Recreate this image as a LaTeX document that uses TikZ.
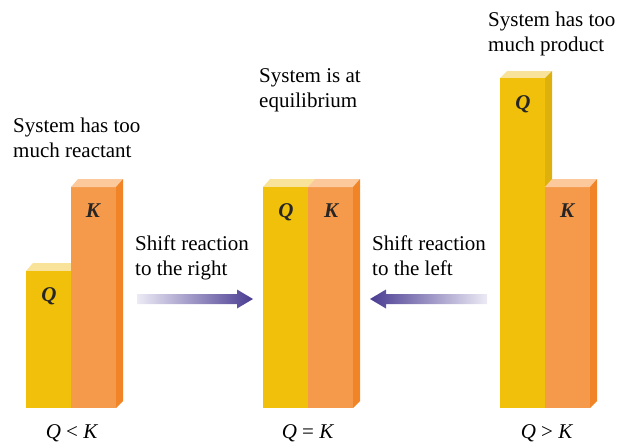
\documentclass[tikz,border=0pt]{standalone}
\usepackage{fontspec}
\setmainfont{Liberation Serif}
\definecolor{yfront}{HTML}{F0C00A}
\definecolor{ytop}{HTML}{F9E29A}
\definecolor{yside}{HTML}{DDB00E}
\definecolor{ofront}{HTML}{F5994B}
\definecolor{otop}{HTML}{FBC99B}
\definecolor{oside}{HTML}{F08426}
\definecolor{arlight}{HTML}{ECEAF5}
\definecolor{ardark}{HTML}{4A3C92}
\begin{document}
\begin{tikzpicture}[x=1pt,y=-1pt,
  txt/.style={font=\fontsize{21}{25}\selectfont, inner sep=0pt, align=left, anchor=north west},
  barlbl/.style={font=\fontsize{21}{25}\selectfont\bfseries\itshape, inner sep=0pt, text=black!85},
  cmp/.style={font=\fontsize{21}{25}\selectfont, inner sep=0pt, anchor=base}]
\useasboundingbox (0,0) rectangle (618,445);
% ---------- left group (Q < K)
\fill[ytop] (26,271) -- (71,271) -- (78,263) -- (33,263) -- cycle;
\fill[yfront] (26,271) rectangle (71,408);
\fill[ofront] (71,187) rectangle (116,408);
\fill[otop] (71,187) -- (116,187) -- (123,179) -- (78,179) -- cycle;
\fill[oside] (116,187) -- (123,179) -- (123,401) -- (116,408) -- cycle;
% ---------- middle group (Q = K)
\fill[ytop] (263,187) -- (308,187) -- (315,179) -- (270,179) -- cycle;
\fill[yfront] (263,187) rectangle (308,408);
\fill[ofront] (308,187) rectangle (353,408);
\fill[otop] (308,187) -- (353,187) -- (360,179) -- (315,179) -- cycle;
\fill[oside] (353,187) -- (360,179) -- (360,401) -- (353,408) -- cycle;
% ---------- right group (Q > K)
\fill[ytop] (500,78) -- (545,78) -- (552,71) -- (507,71) -- cycle;
\fill[yfront] (500,78) rectangle (545,408);
\fill[yside] (545,78) -- (552,71) -- (552,190) -- (545,190) -- cycle;
\fill[ofront] (545,187) rectangle (590,408);
\fill[otop] (545,187) -- (590,187) -- (597,179) -- (552,179) -- cycle;
\fill[oside] (590,187) -- (597,179) -- (597,401) -- (590,408) -- cycle;
% ---------- bar labels
\node[barlbl] (q1) at (49,296) {Q};
\node[barlbl] (k1) at (93,211) {K};
\node[barlbl] (q2) at (286,212) {Q};
\node[barlbl] (k2) at (331,211) {K};
\node[barlbl] (q3) at (523,104) {Q};
\node[barlbl] (k3) at (567,211) {K};
% ---------- comparison labels
\node[cmp] (c1) at (72,438) {\textit{Q} < \textit{K}};
\node[cmp] (c2) at (308,438) {\textit{Q} = \textit{K}};
\node[cmp] (c3) at (547,438) {\textit{Q} > \textit{K}};
% ---------- descriptions
\node[txt] (d1) at (13,118) {System has too\\much reactant};
\node[txt] (d2) at (259,68) {System is at\\equilibrium};
\node[txt] (d3) at (488,12) {System has too\\much product};
\node[txt] (s1) at (135,236) {Shift reaction\\to the right};
\node[txt] (s2) at (372,236) {Shift reaction\\to the left};
% ---------- arrows
\coordinate (ra) at (137,299);
\coordinate (rb) at (253,299);
\shade[left color=arlight, right color=ardark]
  ([yshift=-5]ra) -- ([xshift=-16,yshift=-5]rb) -- ([xshift=-16,yshift=-9.5]rb) -- (rb)
  -- ([xshift=-16,yshift=9.5]rb) -- ([xshift=-16,yshift=5]rb) -- ([yshift=5]ra) -- cycle;
\coordinate (la) at (487,299);
\coordinate (lb) at (370,299);
\shade[left color=ardark, right color=arlight]
  ([yshift=-5]la) -- ([xshift=16,yshift=-5]lb) -- ([xshift=16,yshift=-9.5]lb) -- (lb)
  -- ([xshift=16,yshift=9.5]lb) -- ([xshift=16,yshift=5]lb) -- ([yshift=5]la) -- cycle;
\end{tikzpicture}
\end{document}
